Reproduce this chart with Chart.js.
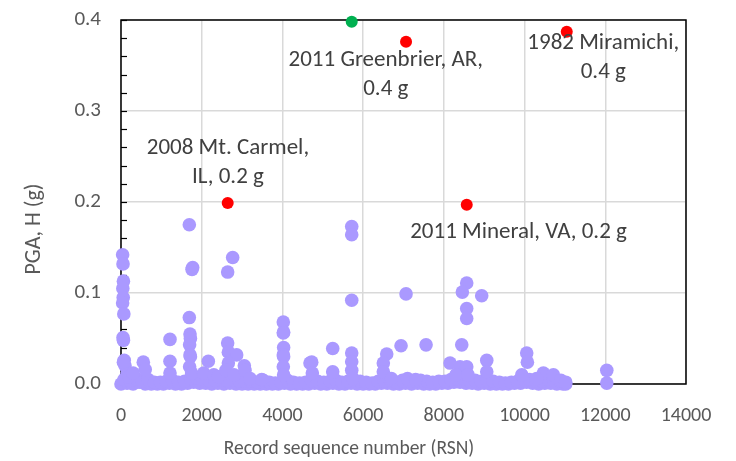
<!DOCTYPE html>
<html>
<head>
<meta charset="utf-8">
<script src="https://cdn.jsdelivr.net/npm/chart.js@4"></script>
<style>
    html, body { margin: 0; padding: 0; background: #fff; }
    canvas { display: block; }
</style>
</head>
<body>
<canvas id="chart" width="736" height="461"></canvas>
<script>
// Registros con PGA bajo: la franja densa sobre el eje
const bandRsn = [0, 150, 300, 450, 600, 750, 900, 1050, 1200, 1350, 1500, 1650, 1800, 1950, 2100, 2250,
    2400, 2550, 2700, 2850, 3000, 3150, 3300, 3450, 3600, 3750, 3900, 4050, 4200, 4350, 4500, 4650,
    4800, 4950, 5100, 5250, 5400, 5550, 5700, 5850, 6000, 6150, 6300, 6450, 6600, 6750, 6900, 7050,
    7200, 7350, 7500, 7650, 7800, 7950, 8100, 8250, 8400, 8550, 8700, 8850, 9000, 9150, 9300, 9450,
    9600, 9750, 9900, 10050, 10200, 10350, 10500, 10650, 10800, 10950, 11020,
    75, 225, 375, 525, 675, 825, 975, 1125, 1275, 1425, 1575, 1725, 1875, 2025, 2175, 2325,
    2475, 2625, 2775, 2925, 3075, 3225, 3375, 3525, 3675, 3825, 3975, 4125, 4275, 4425, 4575, 4725,
    4875, 5025, 5175, 5325, 5475, 5625, 5775, 5925, 6075, 6225, 6375, 6525, 6675, 6825, 6975, 7125,
    7275, 7425, 7575, 7725, 7875, 8025, 8175, 8325, 8475, 8625, 8775, 8925, 9075, 9225, 9375, 9525,
    9675, 9825, 9975, 10125, 10275, 10425, 10575, 10725, 10875];
const bandPga = [0.000, 0.001, 0.000, 0.002, 0.000, 0.000, 0.000, 0.000, 0.001, 0.000, 0.000, 0.001, 0.002, 0.001, 0.001, 0.000,
    0.001, 0.000, 0.001, 0.000, 0.000, 0.000, 0.000, 0.000, 0.000, 0.000, 0.000, 0.001, 0.000, 0.000, 0.000, 0.000,
    0.001, 0.000, 0.000, 0.001, 0.000, 0.000, 0.001, 0.000, 0.000, 0.000, 0.000, 0.001, 0.001, 0.000, 0.000, 0.001,
    0.000, 0.001, 0.000, 0.000, 0.000, 0.001, 0.001, 0.002, 0.002, 0.001, 0.001, 0.000, 0.001, 0.000, 0.000, 0.000,
    0.000, 0.001, 0.001, 0.002, 0.001, 0.000, 0.001, 0.001, 0.000, 0.000, 0.000,
    0.005, 0.004, 0.006, 0.003, 0.005, 0.002, 0.002, 0.003, 0.004, 0.002, 0.003, 0.006, 0.007, 0.005, 0.004, 0.004,
    0.005, 0.004, 0.005, 0.004, 0.003, 0.003, 0.002, 0.004, 0.002, 0.001, 0.002, 0.004, 0.002, 0.001, 0.002, 0.003,
    0.003, 0.002, 0.003, 0.004, 0.002, 0.003, 0.004, 0.003, 0.002, 0.001, 0.003, 0.003, 0.004, 0.002, 0.004, 0.004,
    0.003, 0.004, 0.003, 0.002, 0.003, 0.003, 0.005, 0.006, 0.006, 0.005, 0.004, 0.003, 0.004, 0.003, 0.002, 0.001,
    0.002, 0.003, 0.005, 0.005, 0.004, 0.003, 0.005, 0.004, 0.003];

// Registros que sobresalen de la franja
const peakRsn = [40, 50, 60, 45, 55, 40, 70, 50, 60, 80, 100, 150, 60, 200, 300, 553, 600,
    1214, 1214, 1214, 1693, 1776, 1760, 1693, 1710, 1720, 1700, 1710, 1720, 1700, 1750,
    2164, 2050, 2300, 2412, 2643, 2767, 2643, 2660, 2866, 2660, 2600, 2800,
    3056, 3073, 3200, 3487, 4022, 4030, 4022, 4030, 4022, 4030, 4022, 4030,
    4683, 4726, 4741, 5246, 5246, 5717, 5717, 5717, 5717, 5717, 5717, 5750,
    6584, 6500, 6500, 6700, 6939, 7063, 7100, 7559, 7300,
    8443, 8566, 8458, 8566, 8566, 8938, 8153, 8400, 8567, 8300, 8600,
    9063, 9063, 10053, 10070, 9931, 10466, 10714, 10300, 10900, 11020, 12037, 12037];
const peakPga = [0.142, 0.132, 0.113, 0.105, 0.095, 0.089, 0.077, 0.051, 0.048, 0.026, 0.020, 0.012, 0.024, 0.008, 0.012, 0.024, 0.016,
    0.049, 0.025, 0.012, 0.175, 0.128, 0.126, 0.073, 0.055, 0.050, 0.043, 0.032, 0.030, 0.019, 0.012,
    0.025, 0.012, 0.010, 0.008, 0.123, 0.139, 0.045, 0.035, 0.032, 0.023, 0.015, 0.010,
    0.020, 0.015, 0.006, 0.005, 0.068, 0.057, 0.056, 0.040, 0.032, 0.030, 0.019, 0.010,
    0.023, 0.024, 0.012, 0.039, 0.0135, 0.173, 0.164, 0.092, 0.034, 0.0245, 0.015, 0.006,
    0.033, 0.023, 0.0135, 0.006, 0.042, 0.099, 0.006, 0.043, 0.005,
    0.043, 0.111, 0.101, 0.083, 0.072, 0.097, 0.023, 0.019, 0.019, 0.010, 0.010,
    0.026, 0.0135, 0.034, 0.024, 0.010, 0.012, 0.010, 0.006, 0.004, 0.002, 0.015, 0.001];

// Sismos destacados
const eventRsn = [2644, 7063, 8567, 11045];
const eventPga = [0.199, 0.376, 0.197, 0.387];
const maxRsn = [5717];
const maxPga = [0.398];

// Etiquetas de los sismos (centro de la primera línea, en unidades de datos)
const noteLines = [
    ['2008 Mt. Carmel,', 'IL, 0.2 g'],
    ['2011 Greenbrier, AR,', '0.4 g'],
    ['1982 Miramichi,', '0.4 g'],
    ['2011 Mineral, VA, 0.2 g']
];
const noteRsn = [2650, 6560, 11950, 9850];
const notePga = [0.259, 0.356, 0.375, 0.167];

const xTicks = [0, 2000, 4000, 6000, 8000, 10000, 12000, 14000];
const yTicks = [0, 0.1, 0.2, 0.3, 0.4];

const FONT = "Carlito, Calibri, Lato, 'Open Sans', sans-serif";

const toPoints = (xs, ys) => xs.map((x, i) => ({ x, y: ys[i] }));

const plotFrame = {
    id: 'plotFrame',
    beforeDatasetsDraw(chart) {
        const { ctx, chartArea: a, scales: { y } } = chart;
        ctx.save();
        ctx.strokeStyle = '#000';
        ctx.lineWidth = 1.5;
        ctx.strokeRect(a.left, a.top, a.right - a.left, a.bottom - a.top);
        // marcas menores del eje Y hacia adentro
        ctx.lineWidth = 1.2;
        for (let v = 0; v <= 0.4001; v += 0.02) {
            const py = Math.round(y.getPixelForValue(v)) + 0.5;
            ctx.beginPath();
            ctx.moveTo(a.left, py);
            ctx.lineTo(a.left + 6, py);
            ctx.stroke();
        }
        ctx.restore();
    },
    afterDatasetsDraw(chart) {
        const { ctx, scales: { x, y } } = chart;
        ctx.save();
        ctx.fillStyle = '#404040';
        ctx.font = `23px ${FONT}`;
        ctx.textAlign = 'center';
        ctx.textBaseline = 'middle';
        noteLines.forEach((lines, i) => {
            const cx = x.getPixelForValue(noteRsn[i]);
            const cy = y.getPixelForValue(notePga[i]);
            lines.forEach((t, j) => ctx.fillText(t, cx, cy + j * 29));
        });
        ctx.restore();
    },
    afterDraw(chart) {
        const { ctx } = chart;
        ctx.save();
        ctx.fillStyle = '#595959';
        ctx.textAlign = 'center';
        ctx.textBaseline = 'middle';
        ctx.font = `19.5px ${FONT}`;
        ctx.fillText('Record sequence number (RSN)', 349, 449);
        ctx.font = `22px ${FONT}`;
        ctx.translate(34, 229);
        ctx.rotate(-Math.PI / 2);
        ctx.fillText('PGA, H (g)', 0, 0);
        ctx.restore();
    }
};

new Chart(document.getElementById('chart'), {
    type: 'scatter',
    data: {
        datasets: [
            {
                label: 'Registros',
                data: toPoints(bandRsn, bandPga).concat(toPoints(peakRsn, peakPga)),
                backgroundColor: '#AA99FF',
                borderWidth: 0,
                pointRadius: 6.8,
                clip: false
            },
            {
                label: 'Sismos',
                data: toPoints(eventRsn, eventPga),
                backgroundColor: '#FF0000',
                borderWidth: 0,
                pointRadius: 6,
                clip: false
            },
            {
                label: 'Máximo',
                data: toPoints(maxRsn, maxPga),
                backgroundColor: '#00B050',
                borderWidth: 0,
                pointRadius: 6,
                clip: false
            }
        ]
    },
    options: {
        responsive: false,
        animation: false,
        devicePixelRatio: 1,
        layout: { padding: { top: 20, right: 50, left: 0, bottom: 0 } },
        plugins: {
            legend: { display: false },
            tooltip: { enabled: false }
        },
        scales: {
            x: {
                type: 'linear',
                min: 0,
                max: 14000,
                afterFit: s => { s.height = 77; s.paddingLeft = 0; s.paddingRight = 0; },
                afterBuildTicks: s => { s.ticks = xTicks.map(v => ({ value: v })); },
                ticks: {
                    color: '#595959',
                    font: { family: FONT, size: 20 },
                    padding: 20,
                    maxRotation: 0,
                    callback: v => String(v)
                },
                grid: { color: '#d9d9d9', lineWidth: 1.5, drawTicks: false },
                border: { display: false }
            },
            y: {
                min: 0,
                max: 0.4,
                afterFit: s => { s.width = 121; s.paddingTop = 0; s.paddingBottom = 0; },
                afterBuildTicks: s => { s.ticks = yTicks.map(v => ({ value: v })); },
                ticks: {
                    color: '#595959',
                    font: { family: FONT, size: 21 },
                    padding: 20,
                    callback: v => v.toFixed(1)
                },
                grid: { color: '#d9d9d9', lineWidth: 1.5, drawTicks: false },
                border: { display: false }
            }
        }
    },
    plugins: [plotFrame]
});
</script>
</body>
</html>
